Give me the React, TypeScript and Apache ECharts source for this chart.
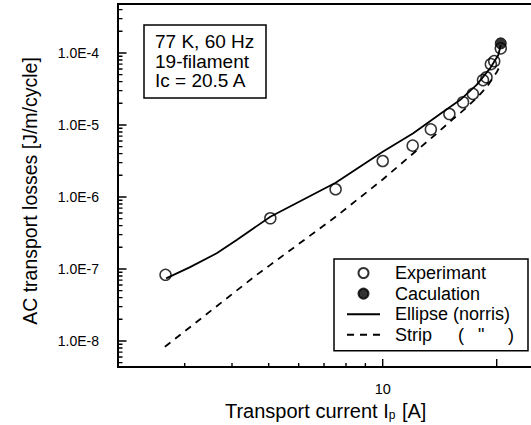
import React, { useEffect, useRef } from "react";
import * as echarts from "echarts";

// ---- axis extents & ticks ----
const X_MIN = 2;
const X_MAX = 25;
const Y_MIN = 4.35e-9;
const Y_MAX = 4.79e-4;
const X_MAJOR_TICKS = [10, 20];
const X_MINOR_TICKS = [3, 4, 5, 6, 7, 8, 9];
const X_TICK_LABELS = [10];
const Y_TICK_VALUES = [1e-8, 1e-7, 1e-6, 1e-5, 1e-4];
const Y_TICK_LABELS = ["1.0E-8", "1.0E-7", "1.0E-6", "1.0E-5", "1.0E-4"];
const Y_MINOR_DECADES = [1e-9, 1e-8, 1e-7, 1e-6, 1e-5, 1e-4];
const Y_MINOR_MULTS = [2, 3, 4, 5, 6, 7, 8, 9];

// ---- data ----
const EXP_CURRENT = [2.67, 5.05, 7.51, 10.0, 12.0, 13.4, 15.0, 16.3, 17.3, 18.4, 18.8, 19.3, 19.7, 20.5];
const EXP_LOSS = [8.3e-8, 5.06e-7, 1.28e-6, 3.16e-6, 5.16e-6, 8.7e-6, 1.42e-5, 2.07e-5, 2.7e-5, 4.2e-5, 4.6e-5, 7.0e-5, 7.7e-5, 1.16e-4];
const CALC_CURRENT = [20.5];
const CALC_LOSS = [1.36e-4];
const ELLIPSE_CURRENT = [2.68, 3.1, 3.645, 4.115, 5.05, 7.51, 10.0, 12.04, 14.45, 16.0, 17.7, 19.2, 20.2, 20.5];
const ELLIPSE_LOSS = [7.4e-8, 1.06e-7, 1.65e-7, 2.53e-7, 5.32e-7, 1.58e-6, 4.26e-6, 7.67e-6, 1.53e-5, 2.22e-5, 3.6e-5, 6.1e-5, 9.4e-5, 1.29e-4];
const STRIP_CURRENT = [2.66, 4.65, 5.05, 7.51, 10.0, 12.25, 13.74, 15.33, 16.6, 17.8, 18.86, 20.04, 20.5];
const STRIP_LOSS = [8.3e-9, 8.3e-8, 1.14e-7, 5.3e-7, 1.75e-6, 4.35e-6, 7.26e-6, 1.21e-5, 1.72e-5, 2.45e-5, 3.4e-5, 5.5e-5, 7.0e-5];

const INFO_LINES = ["77 K, 60 Hz", "19-filament", "Ic = 20.5 A"];
const LEGEND_NAMES = ["Experimant", "Caculation", "Ellipse (norris)", "Strip"];

const FONT = '"Liberation Sans", Arial, Helvetica, sans-serif';
const BLACK = "#000";

function pairs(xs: number[], ys: number[]) {
  return xs.map((x, i) => [x, ys[i]]);
}

// tick marks drawn as a line series of separate segments (null breaks between them)
function tickLine(name: string, segs: number[][][]) {
  const data: any[] = [];
  segs.forEach((s) => {
    data.push(s[0], s[1], null);
  });
  return {
    name,
    type: "line",
    data,
    connectNulls: false,
    symbol: "none",
    showSymbol: false,
    clip: false,
    lineStyle: { color: BLACK, width: 1.4 },
    itemStyle: { color: BLACK },
    z: 6,
  };
}

export default function App() {
  const ref = useRef<HTMLDivElement>(null);
  useEffect(() => {
    if (!ref.current) return;
    const chart = echarts.init(ref.current, undefined, { renderer: "svg" });

    const yMinor: number[] = [];
    Y_MINOR_DECADES.forEach((d) =>
      Y_MINOR_MULTS.forEach((m) => {
        const v = m * d;
        if (v > Y_MIN * 1.05 && v < Y_MAX / 1.05) yMinor.push(v);
      })
    );
    // tick lengths expressed as ratios along the log axes (decade = 72 px on y, 378.7 px on x);
    // each tick starts half a pixel inside the axis so it stays within the axis extent
    const yLen = (px: number) => Math.pow(10, px / 72);
    const xLen = (px: number) => Math.pow(10, px / 378.7);
    const yBase = Y_MIN * yLen(0.6);
    const xBase = X_MIN * xLen(0.6);
    const segs = {
      xMaj: X_MAJOR_TICKS.map((v) => [[v, yBase], [v, Y_MIN * yLen(8)]]),
      xMin: X_MINOR_TICKS.map((v) => [[v, yBase], [v, Y_MIN * yLen(4)]]),
      yMaj: Y_TICK_VALUES.map((v) => [[xBase, v], [X_MIN * xLen(8.5), v]]),
      yMin: yMinor.map((v) => [[xBase, v], [X_MIN * xLen(4.5), v]]),
    };

    const option: any = {
      animation: false,
      backgroundColor: "#fff",
      grid: {
        left: 118,
        top: 4,
        width: 415.4,
        height: 363,
        show: true,
        borderColor: BLACK,
        borderWidth: 2,
        backgroundColor: "transparent",
        containLabel: false,
        outerBoundsMode: "none",
      },
      xAxis: {
        type: "log",
        logBase: 10,
        min: X_MIN,
        max: X_MAX,
        position: "bottom",
        axisLine: { show: true, lineStyle: { color: BLACK, width: 2 } },
        axisTick: { show: false },
        axisLabel: {
          show: true,
          customValues: X_TICK_LABELS,
          formatter: (v: number) => String(Math.round(v)),
          color: BLACK,
          fontSize: 14.5,
          fontFamily: FONT,
          margin: 14,
        },
        minorTick: { show: false },
        splitLine: { show: false },
        name: "Transport current I{sub|p} [A]",
        nameLocation: "middle",
        nameGap: 29,
        nameTextStyle: {
          color: BLACK,
          fontSize: 20,
          fontFamily: FONT,
          rich: {
            sub: { fontSize: 12, fontFamily: FONT, color: BLACK, verticalAlign: "bottom", padding: [7, 1, 0, 0] },
          },
        },
      },
      yAxis: {
        type: "log",
        logBase: 10,
        min: Y_MIN,
        max: Y_MAX,
        position: "left",
        axisLine: { show: true, lineStyle: { color: BLACK, width: 2 } },
        axisTick: { show: false },
        axisLabel: {
          show: true,
          customValues: Y_TICK_VALUES,
          formatter: (v: number) => {
            const i = Y_TICK_VALUES.findIndex((t) => Math.abs(Math.log10(t) - Math.log10(v)) < 1e-6);
            return i >= 0 ? Y_TICK_LABELS[i] : "";
          },
          color: BLACK,
          fontSize: 14,
          fontFamily: FONT,
          margin: 19,
        },
        minorTick: { show: false },
        splitLine: { show: false },
        name: "AC transport losses [J/m/cycle]",
        nameLocation: "middle",
        nameGap: 78,
        nameTextStyle: { color: BLACK, fontSize: 19.5, fontFamily: FONT, padding: [0, 11, 0, 0] },
      },
      legend: {
        show: true,
        orient: "vertical",
        left: 334,
        top: 259,
        data: [
          { name: LEGEND_NAMES[0] },
          { name: LEGEND_NAMES[1] },
          { name: LEGEND_NAMES[2], itemStyle: { color: "rgba(0,0,0,0)", borderColor: "rgba(0,0,0,0)", borderWidth: 0 } },
          { name: LEGEND_NAMES[3], itemStyle: { color: "rgba(0,0,0,0)", borderColor: "rgba(0,0,0,0)", borderWidth: 0 } },
        ],
        itemWidth: 33,
        itemHeight: 10,
        itemGap: 2.6,
        padding: [5, 14, 7, 12],
        borderColor: BLACK,
        borderWidth: 1.5,
        backgroundColor: "#fff",
        selectedMode: false,
        formatter: (name: string) =>
          name === "Strip" ? "{a|Strip}{b|(}{c|\"}{d|)}" : name,
        textStyle: {
          color: BLACK,
          fontSize: 18,
          lineHeight: 18,
          fontFamily: FONT,
          padding: [0, 0, 0, 10],
          rich: {
            a: { width: 63, fontSize: 18, fontFamily: FONT, color: BLACK },
            b: { width: 20, fontSize: 18, fontFamily: FONT, color: BLACK },
            c: { width: 30, fontSize: 18, fontFamily: FONT, color: BLACK },
            d: { fontSize: 18, fontFamily: FONT, color: BLACK },
          },
        },
      },
      graphic: [
        {
          type: "rect",
          shape: { x: 144, y: 25, width: 122, height: 73 },
          style: { fill: "#fff", stroke: BLACK, lineWidth: 1.5 },
          z: 100,
        },
        {
          type: "text",
          x: 155,
          y: 32,
          z: 101,
          style: {
            text: INFO_LINES.join("\n"),
            fill: BLACK,
            fontSize: 19,
            fontFamily: FONT,
            lineHeight: 19.5,
            verticalAlign: "top",
            align: "left",
          },
        },
      ],
      series: [
        tickLine("x major ticks", segs.xMaj),
        tickLine("x minor ticks", segs.xMin),
        tickLine("y major ticks", segs.yMaj),
        tickLine("y minor ticks", segs.yMin),
        {
          name: "Ellipse (norris)",
          type: "line",
          data: pairs(ELLIPSE_CURRENT, ELLIPSE_LOSS),
          symbol: "none",
          smooth: false,
          lineStyle: { color: BLACK, width: 1.8, type: "solid" },
          itemStyle: { color: BLACK },
          z: 2,
        },
        {
          name: "Strip",
          type: "line",
          data: pairs(STRIP_CURRENT, STRIP_LOSS),
          symbol: "none",
          lineStyle: { color: BLACK, width: 1.8, type: [7, 6] },
          itemStyle: { color: BLACK },
          z: 2,
        },
        {
          name: "Experimant",
          type: "scatter",
          data: pairs(EXP_CURRENT, EXP_LOSS),
          symbol: "circle",
          symbolSize: 11,
          itemStyle: { color: "rgba(255,255,255,0)", borderColor: BLACK, borderWidth: 1.5 },
          z: 3,
        },
        {
          name: "Caculation",
          type: "scatter",
          data: pairs(CALC_CURRENT, CALC_LOSS),
          symbol: "circle",
          symbolSize: 11,
          itemStyle: { color: BLACK, borderColor: BLACK, borderWidth: 1 },
          z: 4,
        },
      ],
    };
    chart.setOption(option);
    return () => chart.dispose();
  }, []);
  return (
    <div
      ref={ref}
      style={{ position: "fixed", left: 0, top: 0, width: 531, height: 425, background: "#fff" }}
    />
  );
}
